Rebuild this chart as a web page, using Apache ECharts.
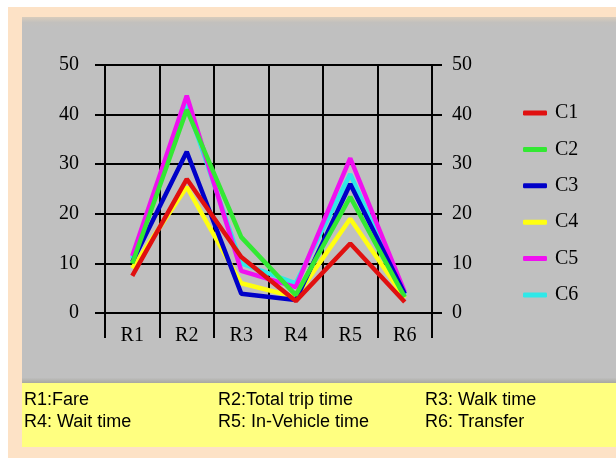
<!DOCTYPE html>
<html>
<head>
<meta charset="utf-8">
<script src="https://cdn.jsdelivr.net/npm/echarts@6/dist/echarts.min.js"></script>
<style>
html,body{margin:0;padding:0;background:#fff;}
#c{width:616px;height:458px;}
</style>
</head>
<body>
<div id="c"></div>
<script>
var categories = ['R1','R2','R3','R4','R5','R6'];
var seriesNames = ['C1','C2','C3','C4','C5','C6'];
var c1 = [7.5, 27, 11.3, 2.4, 14, 2.2];
var c2 = [10, 41, 15.3, 3.6, 23.4, 3.2];
var c3 = [10.3, 32.5, 3.9, 2.6, 26, 3.9];
var c4 = [9, 25.4, 6, 3.2, 19, 3];
var c5 = [11.5, 43.8, 8.5, 5.2, 31.2, 4.2];
var c6 = [11, 42, 10, 6, 28, 3.6];
var yTicks = [0, 10, 20, 30, 40, 50];
var notes = ['R1:Fare', 'R2:Total trip time', 'R3: Walk time', 'R4: Wait time', 'R5: In-Vehicle time', 'R6: Transfer'];

var values = [c1, c2, c3, c4, c5, c6];
var colors = ['#e01010', '#33e833', '#0000c8', '#ffff10', '#f010f0', '#30e8e8'];

var chart = echarts.init(document.getElementById('c'), null, {renderer: 'canvas'});

var serif = '"Liberation Serif", serif';
var sans = '"Liberation Sans", Arial, sans-serif';

var noteX = [24, 218, 425];
var noteY = [400, 422];
var graphics = [
  {type: 'rect', shape: {x: 8, y: 7, width: 608, height: 451}, style: {fill: '#fde2c6'}, z: -10, silent: true},
  {type: 'rect', shape: {x: 22, y: 17, width: 594, height: 366}, style: {
    fill: new echarts.graphic.LinearGradient(0, 0, 0, 1, [
      {offset: 0, color: '#d8ccbc'}, {offset: 0.015, color: '#c2c0bd'}, {offset: 0.03, color: '#c0c0c0'},
      {offset: 0.985, color: '#c0c0c0'}, {offset: 1, color: '#a8a8a0'}
    ])
  }, z: -9, silent: true},
  {type: 'rect', shape: {x: 22, y: 383, width: 594, height: 64}, style: {fill: '#ffff80'}, z: -9, silent: true}
];
notes.forEach(function (t, i) {
  graphics.push({
    type: 'text',
    x: noteX[i % 3],
    y: noteY[Math.floor(i / 3)],
    style: {text: t, fill: '#000', font: '18px ' + sans, textVerticalAlign: 'middle', textAlign: 'left'},
    z: 5,
    silent: true
  });
});

var yAxisCommon = {
  type: 'value',
  min: 0,
  max: 50,
  interval: 10,
  axisLine: {show: true, lineStyle: {color: '#000', width: 2}},
  axisTick: {show: true, length: 10, lineStyle: {color: '#000', width: 2}},
  splitLine: {show: true, lineStyle: {color: '#000', width: 2}},
  axisLabel: {
    color: '#000',
    fontFamily: serif,
    fontSize: 20,
    formatter: function (v) { return yTicks.indexOf(v) >= 0 ? String(v) : ''; }
  }
};

var option = {
  animation: false,
  backgroundColor: '#fff',
  graphic: graphics,
  grid: {left: 105, top: 65, width: 327, height: 248, containLabel: false},
  legend: {
    orient: 'vertical',
    left: 518,
    top: 98,
    itemWidth: 24,
    itemHeight: 5,
    itemGap: 16.4,
    icon: 'roundRect',
    textStyle: {color: '#000', fontFamily: serif, fontSize: 20, padding: [0, 0, 0, 3]},
    data: seriesNames
  },
  xAxis: {
    type: 'category',
    data: categories,
    boundaryGap: true,
    axisLine: {show: true, lineStyle: {color: '#000', width: 2}},
    axisTick: {show: true, length: 25, interval: 0, lineStyle: {color: '#000', width: 2}},
    splitLine: {show: true, interval: 0, lineStyle: {color: '#000', width: 2}},
    axisLabel: {color: '#000', fontFamily: serif, fontSize: 20, margin: 13, interval: 0}
  },
  yAxis: [
    Object.assign({}, yAxisCommon, {position: 'left', axisLabel: Object.assign({}, yAxisCommon.axisLabel, {margin: 26})}),
    Object.assign({}, yAxisCommon, {position: 'right', splitLine: {show: false}, axisLabel: Object.assign({}, yAxisCommon.axisLabel, {margin: 20})})
  ],
  series: seriesNames.map(function (n, i) {
    return {
      name: n,
      type: 'line',
      data: values[i],
      yAxisIndex: 0,
      showSymbol: false,
      symbol: 'none',
      z: 10 - i,
      itemStyle: {color: colors[i]},
      lineStyle: {color: colors[i], width: 4.5}
    };
  })
};
chart.setOption(option);
</script>
</body>
</html>
